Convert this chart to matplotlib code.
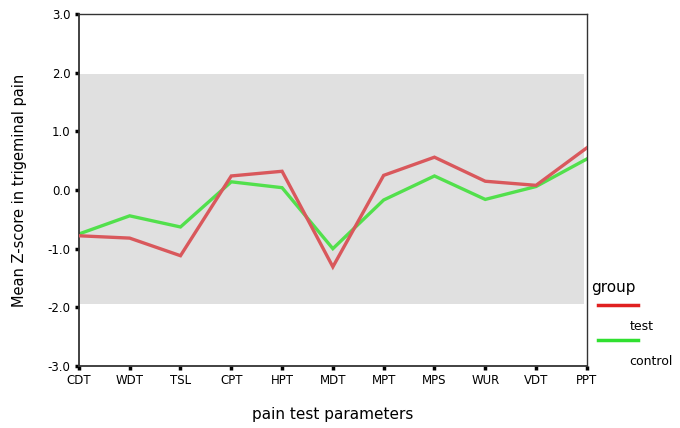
import matplotlib
matplotlib.use("Agg")
import matplotlib.pyplot as plt
from matplotlib.lines import Line2D

params = ["CDT", "WDT", "TSL", "CPT", "HPT", "MDT", "MPT", "MPS", "WUR", "VDT", "PPT"]
test = [-0.78, -0.82, -1.12, 0.24, 0.32, -1.31, 0.25, 0.56, 0.15, 0.08, 0.72]
control = [-0.75, -0.44, -0.63, 0.14, 0.04, -1.00, -0.17, 0.24, -0.16, 0.06, 0.53]
yticks = [-3.0, -2.0, -1.0, 0.0, 1.0, 2.0, 3.0]
RED, GREEN = "#d9585c", "#52e04c"

fig = plt.figure(figsize=(6.8, 4.28), dpi=100)
ax = fig.add_axes([0.116, 0.145, 0.747, 0.822])
x = list(range(len(params)))
ax.axhspan(-1.95, 1.98, xmin=0, xmax=0.994, color="#e0e0e0", lw=0, zorder=0)
ax.plot(x, test, color=RED, lw=2.4, zorder=3, solid_joinstyle="miter")
ax.plot(x, control, color=GREEN, lw=2.4, zorder=2, solid_joinstyle="miter")
ax.set_xlim(0, len(params) - 1); ax.set_ylim(-3, 3)
ax.set_xticks(x); ax.set_xticklabels(params, fontsize=8.5)
ax.set_yticks(yticks); ax.set_yticklabels([f"{v:.1f}" for v in yticks], fontsize=8.5)
ax.tick_params(direction="out", length=3, width=2.5, color="black", pad=3)
for s in ax.spines.values(): s.set_linewidth(1.0); s.set_color("#333333")
ax.spines["left"].set_linewidth(1.3); ax.spines["bottom"].set_linewidth(1.3)
ax.set_ylabel("Mean Z-score in trigeminal pain", fontsize=10.5, labelpad=15)
ax.set_xlabel("pain test parameters", fontsize=11, labelpad=14)

fig.text(0.870, 0.318, "group", fontsize=11)
fig.add_artist(Line2D([0.880, 0.938], [0.287, 0.287], color="#e02020", lw=2.5))
fig.text(0.926, 0.228, "test", fontsize=9)
fig.add_artist(Line2D([0.880, 0.938], [0.205, 0.205], color="#30e030", lw=2.5))
fig.text(0.926, 0.148, "control", fontsize=9)
fig.savefig("out.png", dpi=100)
